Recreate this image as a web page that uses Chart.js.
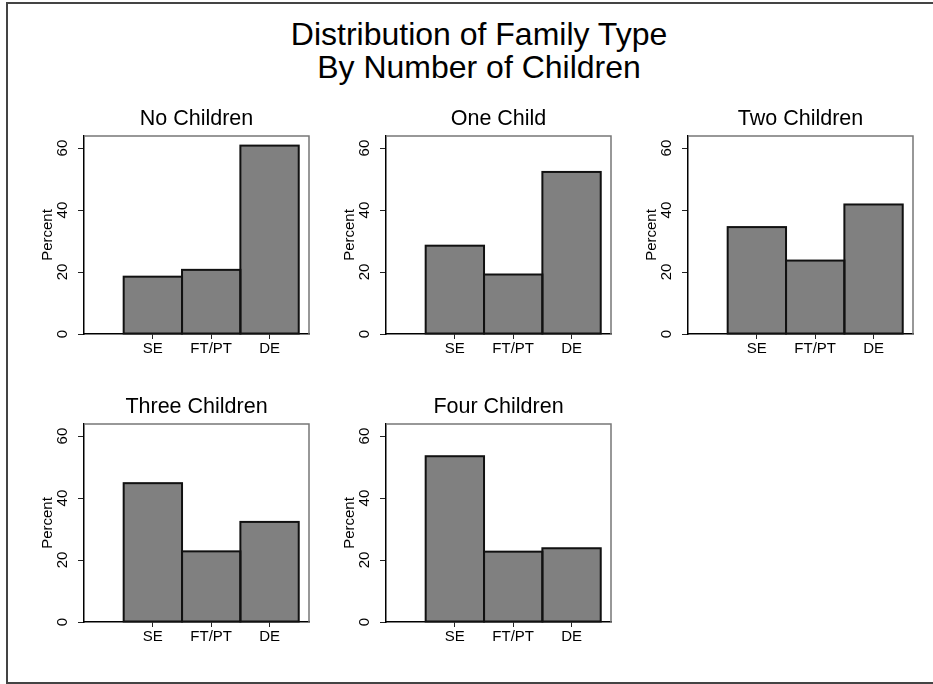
<!DOCTYPE html>
<html>
<head>
<meta charset="utf-8">
<script src="https://cdn.jsdelivr.net/npm/chart.js@4/dist/chart.umd.min.js"></script>
<style>
  html, body { margin: 0; padding: 0; background: #fff; }
  body { width: 933px; height: 684px; position: relative; overflow: hidden;
         font-family: "Liberation Sans", Arial, sans-serif; }
  #frame { position: absolute; left: 6px; top: 2px; width: 990px; height: 682px;
           border: 2px solid #444; box-sizing: border-box; }
  #title { position: absolute; left: 0; top: 18px; width: 958px; text-align: center;
           font-size: 32px; line-height: 33px; color: #000; }
  canvas.panel { position: absolute; }
</style>
</head>
<body>
<div id="frame"></div>
<div id="title">Distribution of Family Type<br>By Number of Children</div>
<canvas class="panel" id="panel0"></canvas>
<canvas class="panel" id="panel1"></canvas>
<canvas class="panel" id="panel2"></canvas>
<canvas class="panel" id="panel3"></canvas>
<canvas class="panel" id="panel4"></canvas>
<script>
// Family type categories and their histogram bin codes
const categories = ['SE', 'FT/PT', 'DE'];
const binCodes = [1, 2, 3];

// Percent of families in each type, by number of children
const noChildren    = [18.5, 20.7, 60.8];
const oneChild      = [28.5, 19.2, 52.3];
const twoChildren   = [34.5, 23.7, 41.8];
const threeChildren = [44.8, 22.8, 32.3];
const fourChildren  = [53.5, 22.7, 23.8];

const panelTitles = ['No Children', 'One Child', 'Two Children', 'Three Children', 'Four Children'];
const panelSeries = [noChildren, oneChild, twoChildren, threeChildren, fourChildren];

const yTicks = [0, 20, 40, 60];
const yAxisTitle = 'Percent';

// Layout of the 3 x 2 grid (plot-area top-left corners)
const PLOT_W = 225, PLOT_H = 198;
const Y_AXIS_W = 54, TITLE_H = 36, X_AXIS_H = 36, RIGHT_PAD = 10;
const plotOrigins = [[84, 136], [386, 136], [688, 136], [84, 424], [386, 424]];

const FONT = '"Liberation Sans", Arial, sans-serif';
Chart.defaults.font.family = FONT;
Chart.defaults.color = '#000';

// Black outline around each bar, centred on the bar edges
const barOutline = {
  id: 'barOutline',
  afterDatasetsDraw(chart) {
    const ctx = chart.ctx;
    chart.getDatasetMeta(0).data.forEach(bar => {
      const { x, y, base, width } = bar.getProps(['x', 'y', 'base', 'width'], true);
      ctx.save();
      ctx.strokeStyle = '#111';
      ctx.lineWidth = 2;
      ctx.strokeRect(x - width / 2, y, width, base - y);
      ctx.restore();
    });
  }
};

// Grey top and right edges of the plot region
const plotFrame = {
  id: 'plotFrame',
  afterDraw(chart) {
    const { ctx, chartArea: a } = chart;
    ctx.save();
    ctx.strokeStyle = '#777';
    ctx.lineWidth = 1.5;
    ctx.beginPath();
    ctx.moveTo(a.left, a.top);
    ctx.lineTo(a.right, a.top);
    ctx.lineTo(a.right, a.bottom);
    ctx.stroke();
    ctx.restore();
  }
};

const tickGrid = (len) => ({
  display: true, drawOnChartArea: false, drawTicks: true,
  tickLength: len, tickColor: '#222', tickWidth: 1, offset: false
});

panelSeries.forEach((series, i) => {
  const canvas = document.getElementById('panel' + i);
  const [px, py] = plotOrigins[i];
  const w = Y_AXIS_W + PLOT_W + RIGHT_PAD;
  const h = TITLE_H + PLOT_H + X_AXIS_H;
  canvas.width = w; canvas.height = h;
  canvas.style.left = (px - Y_AXIS_W) + 'px';
  canvas.style.top = (py - TITLE_H) + 'px';
  canvas.style.width = w + 'px'; canvas.style.height = h + 'px';

  const titleSize = 21.5, titleLH = titleSize * 1.2, titleTop = 5.95;

  new Chart(canvas, {
    type: 'bar',
    data: {
      labels: binCodes,
      datasets: [{
        data: series,
        backgroundColor: '#808080',
        borderWidth: 0,
        barPercentage: 1,
        categoryPercentage: 1
      }]
    },
    options: {
      responsive: false,
      animation: false,
      devicePixelRatio: 1,
      layout: { padding: { left: 0, right: RIGHT_PAD, top: 0, bottom: 0 } },
      plugins: {
        legend: { display: false },
        tooltip: { enabled: false },
        title: {
          display: true,
          fullSize: false,
          text: panelTitles[i],
          color: '#000',
          font: { family: FONT, size: titleSize, weight: 'normal', lineHeight: 1.2 },
          padding: { top: titleTop, bottom: TITLE_H - titleLH - titleTop }
        }
      },
      scales: {
        x: {
          type: 'linear',
          offset: false,
          min: -0.18,
          max: 3.676,
          afterBuildTicks: s => { s.ticks = binCodes.map(v => ({ value: v })); },
          afterFit: s => { s.height = X_AXIS_H; },
          grid: tickGrid(5),
          border: { display: true, color: '#000', width: 1.5 },
          ticks: {
            autoSkip: false, minRotation: 0, maxRotation: 0, padding: 1,
            color: '#000', font: { family: FONT, size: 15 },
            callback: v => categories[binCodes.indexOf(v)]
          }
        },
        y: {
          min: 0,
          max: 63.9,
          afterBuildTicks: s => { s.ticks = yTicks.map(v => ({ value: v })); },
          afterFit: s => { s.width = Y_AXIS_W; },
          grid: tickGrid(6),
          border: { display: true, color: '#000', width: 1.5 },
          ticks: {
            autoSkip: false, minRotation: 90, maxRotation: 90,
            crossAlign: 'center', padding: 6.3,
            color: '#000', font: { family: FONT, size: 15 }
          },
          title: {
            display: true, text: yAxisTitle, color: '#000',
            font: { family: FONT, size: 15, lineHeight: 1.2 },
            padding: { top: 9, bottom: 0 }
          }
        }
      }
    },
    plugins: [barOutline, plotFrame]
  });
});
</script>
</body>
</html>
